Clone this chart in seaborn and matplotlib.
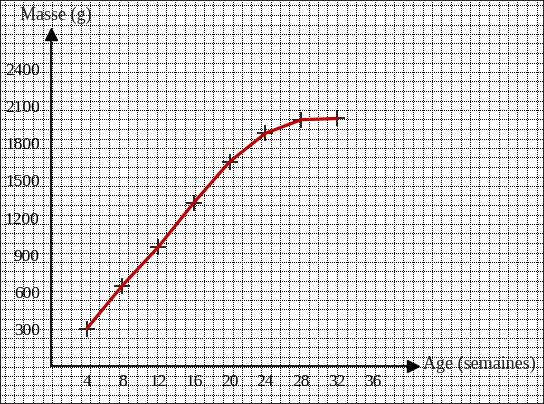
import numpy as np
import pandas as pd
import matplotlib
matplotlib.use("Agg")
import matplotlib.pyplot as plt
import seaborn as sns

sns.set_style("white")
plt.rcParams["font.family"] = ["Liberation Serif", "DejaVu Serif"]

# data
ages = [4, 8, 12, 16, 20, 24, 28, 32]
masses = [300, 650, 960, 1320, 1650, 1880, 1990, 2000]
x_ticks = [4, 8, 12, 16, 20, 24, 28, 32, 36]
y_ticks = [300, 600, 900, 1200, 1500, 1800, 2100, 2400]

W, H = 544, 404
df = pd.DataFrame({"age": ages, "masse": masses})

fig = plt.figure(figsize=(W / 100, H / 100), dpi=100)

# graph paper background, in pixel units
bg = fig.add_axes([0, 0, 1, 1])
bg.set_xlim(0, W)
bg.set_ylim(H, 0)
step = 9.5
for gx in np.arange(3.5, W, step):
    bg.axvline(np.round(gx) + 0.5, color="black", lw=0.72, ls=(0, (1, 1.2)),
               antialiased=False, zorder=0)
for gy in np.arange(4.5, H, step):
    bg.axhline(np.round(gy) + 0.5, color="black", lw=0.72, ls=(0, (1, 1.2)),
               antialiased=False, zorder=0)
bg.set_xticks([])
bg.set_yticks([])
for s in bg.spines.values():
    s.set_visible(True)
    s.set_color("black")
    s.set_linewidth(1.2)

# data axes laid over the whole figure: px = 50.8 + 8.94*x, py = 366.1 - 0.12381*y
px0, sx = 50.8, 8.94
py0, sy = 366.1, 0.12381
ax = fig.add_axes([0, 0, 1, 1])
ax.patch.set_alpha(0)
ax.set_xlim(-px0 / sx, (W - px0) / sx)
ax.set_ylim((py0 - H) / sy, py0 / sy)

x_end = (413 - px0) / sx
y_end = (py0 - 34) / sy
for side in ["top", "right"]:
    ax.spines[side].set_visible(False)
ax.spines["left"].set_position(("data", 0))
ax.spines["bottom"].set_position(("data", 0))
ax.spines["left"].set_bounds(0, y_end)
ax.spines["bottom"].set_bounds(0, x_end)
for side in ["left", "bottom"]:
    ax.spines[side].set_linewidth(1.3)
    ax.spines[side].set_color("black")
ax.plot([x_end], [0], marker=">", color="black", ms=8, clip_on=False)
ax.plot([0], [y_end], marker="^", color="black", ms=8, clip_on=False)

ax.set_xticks(x_ticks)
ax.set_yticks(y_ticks)
ax.tick_params(axis="both", direction="out", length=3, width=1, colors="black",
               labelsize=12.5)
ax.tick_params(axis="y", pad=5)
ax.tick_params(axis="x", pad=3)

sns.scatterplot(data=df, x="age", y="masse", marker="+", s=130, color="black",
                linewidth=1.2, ax=ax, zorder=3)
sns.lineplot(data=df, x="age", y="masse", color="#c00000", lw=2.3, ax=ax, zorder=4)
ax.set_xlabel("")
ax.set_ylabel("")

fig.text(20 / W, 1 - 15 / H, "Masse (g)", fontsize=13, va="center", ha="left")
fig.text(423 / W, 1 - 364 / H, "Age (semaines)", fontsize=13, va="center", ha="left")

fig.savefig("out.png", dpi=100)
